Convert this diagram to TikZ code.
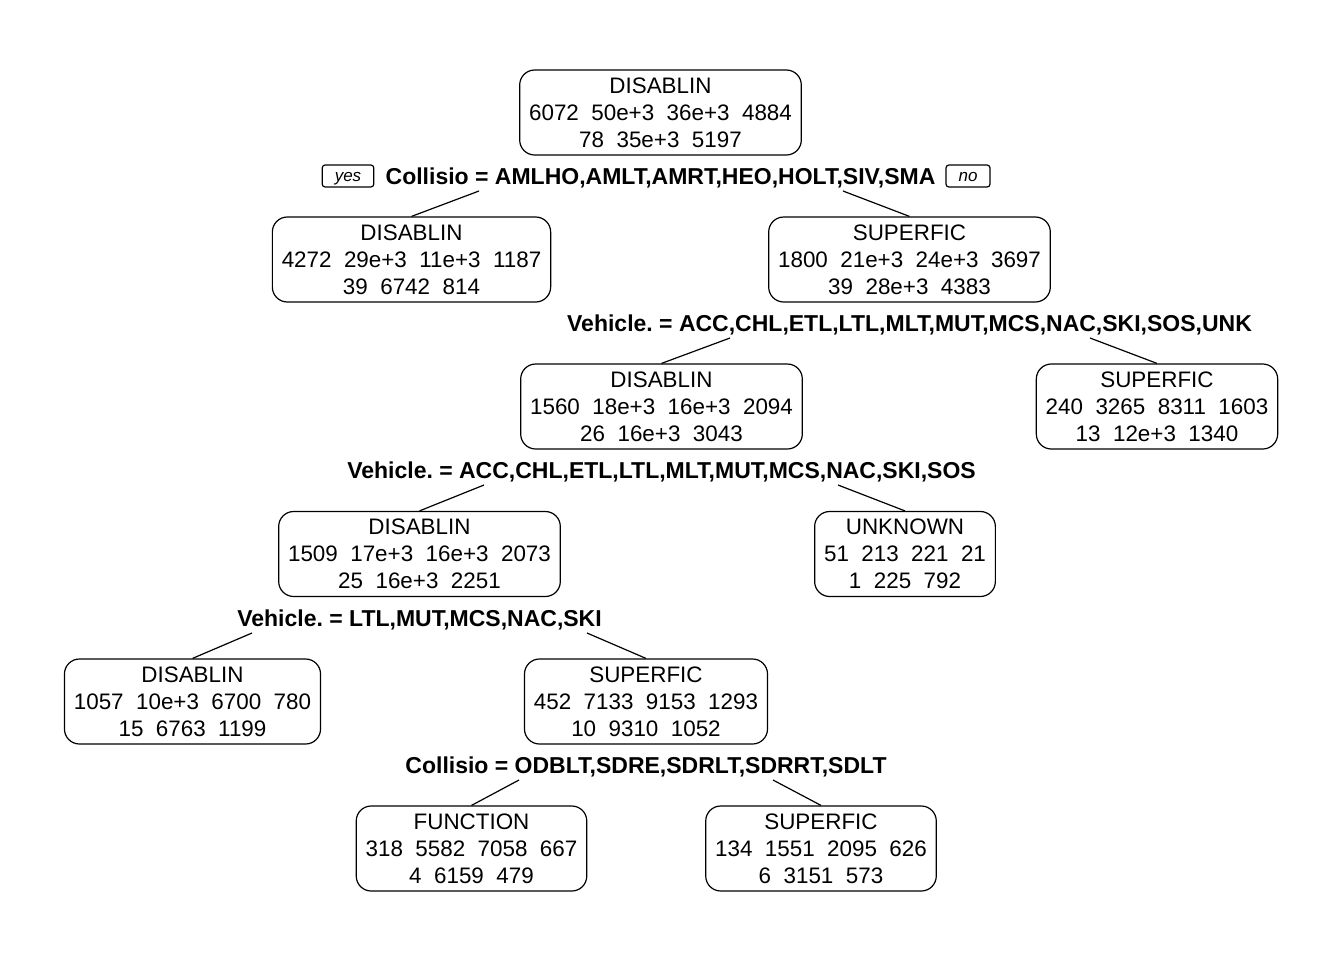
\documentclass[tikz,border=0pt]{standalone}
\usepackage{fontspec}
\setmainfont{Liberation Sans}
\frenchspacing
\begin{document}
\begin{tikzpicture}[x=0.5pt,y=-0.5pt,line width=0.6pt,
  leaf/.style={draw,rounded corners=7.5pt,align=center,inner xsep=4.7pt,
    minimum height=42.5pt,font=\fontsize{11.2}{13.5}\selectfont},
  splitlab/.style={font=\fontsize{11.5}{13.3}\selectfont\bfseries,inner sep=0pt},
  yesno/.style={draw,rounded corners=1.5pt,inner xsep=6.3pt,inner ysep=0pt,
    text height=6.5pt,text depth=1.5pt,
    minimum height=11pt,font=\fontsize{8.5}{10}\selectfont\itshape}]
\useasboundingbox (0,0) rectangle (1344,960);
% nodes
\node[leaf] (n1) at (660.5,112.5) {DISABLIN\\6072~~50e+3~~36e+3~~4884\\78~~35e+3~~5197};
\node[leaf] (n2) at (411.5,259.5) {DISABLIN\\4272~~29e+3~~11e+3~~1187\\39~~6742~~814};
\node[leaf] (n3) at (909.5,259.5) {SUPERFIC\\1800~~21e+3~~24e+3~~3697\\39~~28e+3~~4383};
\node[leaf] (n6) at (661.5,406.5) {DISABLIN\\1560~~18e+3~~16e+3~~2094\\26~~16e+3~~3043};
\node[leaf] (n7) at (1157,406.5) {SUPERFIC\\240~~3265~~8311~~1603\\13~~12e+3~~1340};
\node[leaf] (n12) at (419.5,554) {DISABLIN\\1509~~17e+3~~16e+3~~2073\\25~~16e+3~~2251};
\node[leaf] (n13) at (905,554) {UNKNOWN\\51~~213~~221~~21\\1~~225~~792};
\node[leaf] (n24) at (192.5,701.5) {DISABLIN\\1057~~10e+3~~6700~~780\\15~~6763~~1199};
\node[leaf] (n25) at (646,701.5) {SUPERFIC\\452~~7133~~9153~~1293\\10~~9310~~1052};
\node[leaf] (n50) at (471.5,848.5) {FUNCTION\\318~~5582~~7058~~667\\4~~6159~~479};
\node[leaf] (n51) at (821,848.5) {SUPERFIC\\134~~1551~~2095~~626\\6~~3151~~573};
% split labels
\node[splitlab] (s1) at (660.5,177.5) {Collisio = AMLHO,AMLT,AMRT,HEO,HOLT,SIV,SMA};
\node[yesno] (yes) at (348,176) {yes};
\node[yesno] (no) at (968,176) {no};
\node[splitlab] (s3) at (909.5,324.5) {Vehicle. = ACC,CHL,ETL,LTL,MLT,MUT,MCS,NAC,SKI,SOS,UNK};
\node[splitlab] (s6) at (661.5,471.5) {Vehicle. = ACC,CHL,ETL,LTL,MLT,MUT,MCS,NAC,SKI,SOS};
\node[splitlab] (s12) at (419.5,619.5) {Vehicle. = LTL,MUT,MCS,NAC,SKI};
\node[splitlab] (s25) at (646,766.5) {Collisio = ODBLT,SDRE,SDRLT,SDRRT,SDLT};
% branch starts
\coordinate (b1l) at (479,191);
\coordinate (b1r) at (843,191);
\coordinate (b3l) at (730,338);
\coordinate (b3r) at (1090,338);
\coordinate (b6l) at (484,485);
\coordinate (b6r) at (838,485);
\coordinate (b12l) at (252,633);
\coordinate (b12r) at (587,633);
\coordinate (b25l) at (519,780);
\coordinate (b25r) at (773,780);
% branches
\draw (b1l) -- (n2.north);
\draw (b1r) -- (n3.north);
\draw (b3l) -- (n6.north);
\draw (b3r) -- (n7.north);
\draw (b6l) -- (n12.north);
\draw (b6r) -- (n13.north);
\draw (b12l) -- (n24.north);
\draw (b12r) -- (n25.north);
\draw (b25l) -- (n50.north);
\draw (b25r) -- (n51.north);
\end{tikzpicture}
\end{document}
